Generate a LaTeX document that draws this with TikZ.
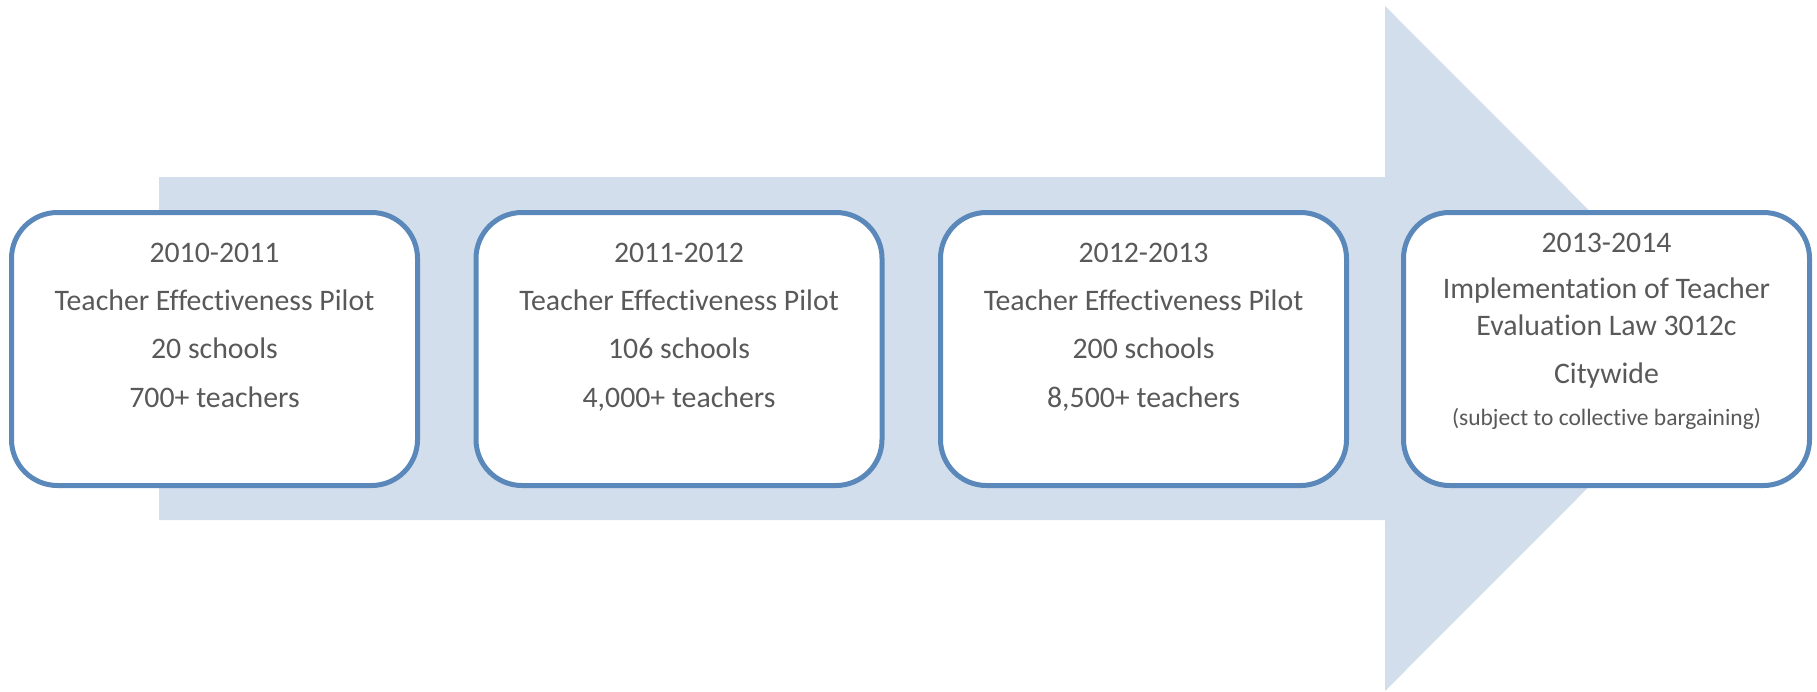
\documentclass[tikz,border=0pt]{standalone}
\usepackage{fontspec}
\setmainfont{Carlito}[Ligatures={NoCommon}]
\definecolor{arrowfill}{HTML}{D2DEEC}
\definecolor{boxline}{HTML}{5B88BA}
\definecolor{txt}{HTML}{595959}
\begin{document}
\begin{tikzpicture}[x=1pt,y=-1pt,
  stagebox/.style={draw=boxline, line width=5pt, fill=white, rounded corners=46pt,
    minimum width=406pt, minimum height=273pt, inner sep=0pt},
  lbl/.style={anchor=base, text=txt, font=\fontsize{29.8}{35}\selectfont, inner sep=0pt},
  small/.style={anchor=base, text=txt, font=\fontsize{23.5}{28}\selectfont, inner sep=0pt}]
\useasboundingbox (0,0) rectangle (1817,691);
\fill[arrowfill] (159,177) -- (1385,177) -- (1385,6) -- (1727,348.5) -- (1385,691) -- (1385,520) -- (159,520) -- cycle;
\node[stagebox] (b1) at (214.5,349) {};
\node[stagebox] (b2) at (679,349) {};
\node[stagebox] (b3) at (1143.5,349) {};
\node[stagebox] (b4) at (1606.5,349) {};
% box 1
\node[lbl] (t11) at (214.5,262) {2010-2011};
\node[lbl] (t12) at (214.5,310) {Teacher Effectiveness Pilot};
\node[lbl] (t13) at (214.5,358) {20 schools};
\node[lbl] (t14) at (214.5,407) {700+ teachers};
% box 2
\node[lbl] (t21) at (679,262) {2011-2012};
\node[lbl] (t22) at (679,310) {Teacher Effectiveness Pilot};
\node[lbl] (t23) at (679,358) {106 schools};
\node[lbl] (t24) at (679,407) {4,000+ teachers};
% box 3
\node[lbl] (t31) at (1143.5,262) {2012-2013};
\node[lbl] (t32) at (1143.5,310) {Teacher Effectiveness Pilot};
\node[lbl] (t33) at (1143.5,358) {200 schools};
\node[lbl] (t34) at (1143.5,407) {8,500+ teachers};
% box 4
\node[lbl] (t41) at (1606.5,252) {2013-2014};
\node[lbl] (t42) at (1606.5,298) {Implementation of Teacher};
\node[lbl] (t43) at (1606.5,335) {Evaluation Law 3012c};
\node[lbl] (t44) at (1606.5,383) {Citywide};
\node[small] (t45) at (1606.5,425) {(subject to collective bargaining)};
\end{tikzpicture}
\end{document}
